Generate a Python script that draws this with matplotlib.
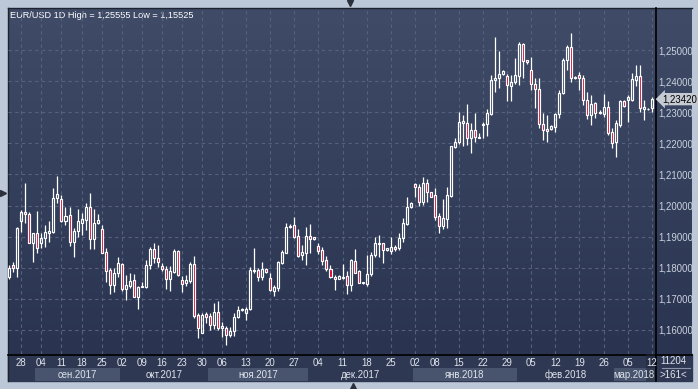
import numpy as np
import matplotlib.pyplot as plt
from matplotlib.colors import LinearSegmentedColormap
from matplotlib.patches import Rectangle
import matplotlib.transforms as mtransforms

plt.rcParams['font.family'] = ['Liberation Sans', 'DejaVu Sans']

# EUR/USD daily candles
opens = [1.1770, 1.1809, 1.1798, 1.1951, 1.1978, 1.1973, 1.1880, 1.1913, 1.1878, 1.1897,
         1.1913, 1.1916, 1.2023, 1.2020, 1.1951, 1.1970, 1.1884, 1.1918, 1.1943, 1.1953,
         1.1994, 1.1891, 1.1943, 1.1923, 1.1849, 1.1793, 1.1744, 1.1784, 1.1811, 1.1731,
         1.1741, 1.1761, 1.1707, 1.1738, 1.1739, 1.1809, 1.1859, 1.1830, 1.1806, 1.1795,
         1.1765, 1.1787, 1.1854, 1.1761, 1.1750, 1.1757, 1.1812, 1.1648, 1.1591, 1.1651,
         1.1645, 1.1616, 1.1658, 1.1605, 1.1605, 1.1584, 1.1597, 1.1641, 1.1664, 1.1653,
         1.1666, 1.1789, 1.1793, 1.1769, 1.1795, 1.1766, 1.1726, 1.1734, 1.1816, 1.1848,
         1.1930, 1.1937, 1.1902, 1.1841, 1.1848, 1.1902, 1.1891, 1.1870, 1.1857, 1.1825,
         1.1795, 1.1771, 1.1765, 1.1767, 1.1773, 1.1743, 1.1822, 1.1789, 1.1751, 1.1748,
         1.1780, 1.1841, 1.1877, 1.1878, 1.1857, 1.1855, 1.1868, 1.1862, 1.1895, 1.1940,
         1.1996, 1.2068, 1.2061, 1.2012, 1.2071, 1.2043, 1.2034, 1.1967, 1.1935, 1.1957,
         1.2032, 1.2189, 1.2205, 1.2265, 1.2265, 1.2216, 1.2242, 1.2218, 1.2260, 1.2261,
         1.2293, 1.2404, 1.2409, 1.2422, 1.2417, 1.2385, 1.2396, 1.2417, 1.2518, 1.2468,
         1.2436, 1.2390, 1.2375, 1.2261, 1.2246, 1.2245, 1.2253, 1.2293, 1.2361, 1.2468,
         1.2511, 1.2410, 1.2420, 1.2411, 1.2339, 1.2291, 1.2329, 1.2299, 1.2293, 1.2318,
         1.2235, 1.2203, 1.2259, 1.2336, 1.2339, 1.2339, 1.2404, 1.2417, 1.2310, 1.2310,
         1.2312]
highs = [1.1809, 1.1819, 1.1932, 1.1986, 1.2071, 1.1980, 1.1913, 1.1982, 1.1913, 1.1937,
         1.1950, 1.2055, 1.2095, 1.2034, 1.1996, 1.1996, 1.1927, 1.1988, 1.1975, 1.2009,
         1.2039, 1.1988, 1.1973, 1.1937, 1.1862, 1.1798, 1.1798, 1.1833, 1.1814, 1.1777,
         1.1782, 1.1780, 1.1741, 1.1755, 1.1825, 1.1868, 1.1878, 1.1873, 1.1816, 1.1806,
         1.1806, 1.1859, 1.1857, 1.1774, 1.1777, 1.1819, 1.1838, 1.1655, 1.1655, 1.1659,
         1.1655, 1.1687, 1.1694, 1.1627, 1.1613, 1.1610, 1.1655, 1.1677, 1.1669, 1.1675,
         1.1803, 1.1862, 1.1798, 1.1819, 1.1798, 1.1782, 1.1744, 1.1822, 1.1857, 1.1945,
         1.1940, 1.1962, 1.1923, 1.1873, 1.1932, 1.1940, 1.1900, 1.1880, 1.1868, 1.1838,
         1.1809, 1.1777, 1.1777, 1.1812, 1.1790, 1.1827, 1.1859, 1.1793, 1.1755, 1.1841,
         1.1851, 1.1900, 1.1905, 1.1880, 1.1863, 1.1898, 1.1873, 1.1912, 1.1961, 1.2028,
         1.2010, 1.2071, 1.2068, 1.2093, 1.2085, 1.2045, 1.2057, 1.1975, 1.2021, 1.2061,
         1.2192, 1.2216, 1.2300, 1.2291, 1.2326, 1.2264, 1.2297, 1.2232, 1.2270, 1.2310,
         1.2420, 1.2543, 1.2497, 1.2436, 1.2422, 1.2420, 1.2475, 1.2527, 1.2524, 1.2469,
         1.2478, 1.2409, 1.2409, 1.2297, 1.2291, 1.2259, 1.2297, 1.2371, 1.2473, 1.2516,
         1.25555, 1.2417, 1.2430, 1.2420, 1.2366, 1.2355, 1.2332, 1.2307, 1.2358, 1.2336,
         1.2248, 1.2275, 1.2339, 1.2339, 1.2355, 1.2425, 1.2452, 1.2452, 1.2339, 1.2314,
         1.2350]
lows = [1.1763, 1.1787, 1.1771, 1.1916, 1.1943, 1.1878, 1.1819, 1.1848, 1.1862, 1.1866,
        1.1884, 1.1913, 1.2007, 1.1948, 1.1937, 1.1870, 1.1835, 1.1900, 1.1905, 1.1921,
        1.1859, 1.1859, 1.1940, 1.1847, 1.1755, 1.1716, 1.1723, 1.1771, 1.1726, 1.1696,
        1.1734, 1.1705, 1.1666, 1.1737, 1.1734, 1.1795, 1.1814, 1.1803, 1.1790, 1.1731,
        1.1726, 1.1784, 1.1774, 1.1723, 1.1741, 1.1752, 1.1637, 1.1573, 1.1589, 1.1623,
        1.1600, 1.1602, 1.1600, 1.1576, 1.15525, 1.1578, 1.1581, 1.1637, 1.1661, 1.1632,
        1.1664, 1.1784, 1.1758, 1.1761, 1.1784, 1.1726, 1.1709, 1.1726, 1.1812, 1.1846,
        1.1928, 1.1895, 1.1833, 1.1825, 1.1809, 1.1846, 1.1889, 1.1844, 1.1809, 1.1790,
        1.1766, 1.1728, 1.1763, 1.1763, 1.1716, 1.1726, 1.1782, 1.1750, 1.1748, 1.1741,
        1.1773, 1.1835, 1.1835, 1.1814, 1.1855, 1.1844, 1.1855, 1.1857, 1.1884, 1.1937,
        1.1993, 1.2028, 1.1999, 1.2002, 1.2012, 1.2026, 1.1953, 1.1913, 1.1924, 1.1929,
        1.2028, 1.2186, 1.2197, 1.2192, 1.2195, 1.2168, 1.2205, 1.2216, 1.2216, 1.2225,
        1.2291, 1.2366, 1.2377, 1.2420, 1.2336, 1.2336, 1.2390, 1.2387, 1.2411, 1.2454,
        1.2371, 1.2314, 1.2248, 1.2211, 1.2205, 1.2243, 1.2237, 1.2282, 1.2358, 1.2436,
        1.2396, 1.2406, 1.2371, 1.2323, 1.2278, 1.2259, 1.2280, 1.2293, 1.2285, 1.2227,
        1.2184, 1.2157, 1.2253, 1.2318, 1.2270, 1.2336, 1.2385, 1.2300, 1.2275, 1.2306,
        1.2300]
closes = [1.1799, 1.1798, 1.1927, 1.1980, 1.1972, 1.1880, 1.1911, 1.1862, 1.1895, 1.1916,
          1.1919, 1.2023, 1.2037, 1.1951, 1.1966, 1.1884, 1.1919, 1.1950, 1.1957, 1.1996,
          1.1891, 1.1945, 1.1953, 1.1848, 1.1790, 1.1744, 1.1784, 1.1816, 1.1731, 1.1744,
          1.1757, 1.1707, 1.1737, 1.1740, 1.1809, 1.1859, 1.1830, 1.1819, 1.1795, 1.1765,
          1.1790, 1.1855, 1.1777, 1.1747, 1.1761, 1.1812, 1.1645, 1.1605, 1.1648, 1.1643,
          1.1616, 1.1658, 1.1605, 1.1613, 1.1584, 1.1597, 1.1641, 1.1664, 1.1666, 1.1667,
          1.1793, 1.1792, 1.1769, 1.1795, 1.1787, 1.1728, 1.1737, 1.1819, 1.1851, 1.1930,
          1.1934, 1.1898, 1.1839, 1.1851, 1.1902, 1.1891, 1.1898, 1.1855, 1.1822, 1.1795,
          1.1771, 1.1763, 1.1773, 1.1771, 1.1744, 1.1825, 1.1784, 1.1752, 1.1753, 1.1780,
          1.1841, 1.1878, 1.1879, 1.1857, 1.1862, 1.1868, 1.1861, 1.1895, 1.1943, 1.1996,
          1.2007, 1.2061, 1.2012, 1.2071, 1.2043, 1.2028, 1.1964, 1.1935, 1.1959, 1.2034,
          1.2191, 1.2203, 1.2270, 1.2271, 1.2216, 1.2243, 1.2221, 1.2221, 1.2262, 1.2297,
          1.2404, 1.2411, 1.2422, 1.2432, 1.2387, 1.2396, 1.2420, 1.2518, 1.2466, 1.2460,
          1.2390, 1.2375, 1.2261, 1.2243, 1.2240, 1.2257, 1.2293, 1.2361, 1.2468, 1.2511,
          1.2409, 1.2412, 1.2409, 1.2339, 1.2291, 1.2326, 1.2297, 1.2300, 1.2318, 1.2232,
          1.2200, 1.2264, 1.2336, 1.2321, 1.2350, 1.2407, 1.2417, 1.2314, 1.2318, 1.2311,
          1.2342]

# axis labels
week_pos = [3, 8, 13, 18, 23, 28, 33, 38, 43, 48, 53, 59, 65, 71, 77, 83, 89, 95,
            101, 106, 112, 118, 124, 130, 136, 142, 148, 154, 160]
week_labels = ['28', '04', '11', '18', '25', '02', '09', '16', '23', '30', '06', '13',
               '20', '27', '04', '11', '18', '25', '02', '08', '15', '22', '29', '05',
               '12', '19', '26', '05', '12']
month_start = [7, 28, 50, 75, 101, 127, 151]
month_names = ['сен.2017', 'окт.2017', 'ноя.2017', 'дек.2017', 'янв.2018', 'фев.2018', 'мар.2018']
price_ticks = [1.16, 1.17, 1.18, 1.19, 1.20, 1.21, 1.22, 1.23, 1.24, 1.25]

W, H = 698, 389
fig = plt.figure(figsize=(W / 100, H / 100), dpi=100, facecolor='#bcc8d8')

# background / frame layer in pixel coordinates
bg = fig.add_axes([0, 0, 1, 1], zorder=0)
grad = LinearSegmentedColormap.from_list('g', ['#3f4b67', '#2a3451'])
bg.imshow(np.linspace(0, 1, 200).reshape(-1, 1), cmap=grad, extent=(8, 692, 354, 8), aspect='auto')
bg.add_patch(Rectangle((8, 354), 684, 27, color='#2e3852'))
bg.plot([7.5, 692], [7.5, 7.5], color='#1c2230', lw=1)
bg.plot([7.5, 7.5], [7.5, 381], color='#1c2230', lw=1)
bg.plot([8, 692], [354.5, 354.5], color='black', lw=1.2)
bg.plot([655.5, 655.5], [8, 381], color='black', lw=1.2)
bg.plot([662, 690], [367.5, 367.5], color='#8a94a6', lw=0.8)
bg.text(673, 361, '11204', color='#dfe4ec', fontsize=7, ha='center', va='center')
bg.text(673, 374.5, '>161<', color='#dfe4ec', fontsize=7, ha='center', va='center')
bg.text(10, 15, 'EUR/USD 1D High = 1,25555 Low = 1,15525', color='white', fontsize=6.6, va='center')
bg.plot(350, 2.5, marker='v', color='#2a303c', ms=5)
bg.plot(3, 193, marker='>', color='#2a303c', ms=5)
bg.plot(353, 386, marker='^', color='#2a303c', ms=5)
bg.set_xlim(0, W)
bg.set_ylim(H, 0)
bg.axis('off')

# price chart
ax = fig.add_axes([8 / W, 35 / H, 647 / W, 346 / H], zorder=1)
ax.set_facecolor('none')
o = np.array(opens)
c = np.array(closes)
hi = np.array(highs)
lo = np.array(lows)
x = np.arange(len(o))
top = np.maximum(o, c)
bot = np.minimum(o, c)
up = c >= o
hgt = np.maximum(top - bot, 0.00003)
ax.vlines(x, top, hi, color='white', lw=0.9, zorder=3)
ax.vlines(x, lo, bot, color='white', lw=0.9, zorder=3)
ax.bar(x[up], hgt[up], bottom=bot[up], width=0.5, facecolor='none', edgecolor='white', lw=0.85, zorder=4)
ax.bar(x[~up], hgt[~up], bottom=bot[~up], width=0.5, facecolor='#d9002a', edgecolor='white', lw=0.85, zorder=4)

ax.set_xlim(-0.32, 160.82)
ax.set_ylim(1.15225, 1.26351)
ax.set_yticks(price_ticks)
ax.set_yticklabels([f'{t:.5f}'.replace('.', ',') for t in price_ticks])
ax.set_xticks(week_pos)
ax.grid(True, color='#56627d', ls=(0, (3, 3)), lw=0.8)
ax.set_axisbelow(True)
ax.yaxis.tick_right()
ax.tick_params(axis='y', length=0, pad=2.5, labelsize=6.9, labelcolor='#cbd3df')
ax.tick_params(axis='x', length=0, labelbottom=False)
for s in ax.spines.values():
    s.set_visible(False)

# current price tag
tr = mtransforms.blended_transform_factory(ax.transAxes, ax.transData)
ax.text(1.011, closes[-1], f'{closes[-1]:.5f}'.replace('.', ','), transform=tr, fontsize=6.9,
        color='black', va='center', ha='left', clip_on=False, zorder=6,
        bbox=dict(boxstyle='larrow,pad=0.12', fc='#c5cad3', ec='none'))

# date axis
dax = fig.add_axes([8 / W, 8 / H, 647 / W, 27 / H], zorder=1)
dax.set_facecolor('none')
dax.set_xlim(ax.get_xlim())
dax.set_ylim(0, 1)
bounds = month_start + [ax.get_xlim()[1] + 0.5]
for k, name in enumerate(month_names):
    a, b = bounds[k] - 0.5, bounds[k + 1] - 0.5
    if k % 2 == 0:
        dax.axvspan(a, b, 0, 0.5, color='#48546e', lw=0)
    dax.text(min((a + b) / 2, 157.2), 0.24, name, color='#dfe4ec', fontsize=6.9,
             ha='center', va='center', clip_on=True)
dax.axvspan(158.6, ax.get_xlim()[1], 0, 1, color='#1f2738', alpha=0.55, lw=0)
for p, lab in zip(week_pos, week_labels):
    dax.text(p, 0.68, lab, color='#dfe4ec', fontsize=6.9, ha='center', va='center')
dax.axis('off')

fig.savefig('out.png', dpi=100, facecolor=fig.get_facecolor())
